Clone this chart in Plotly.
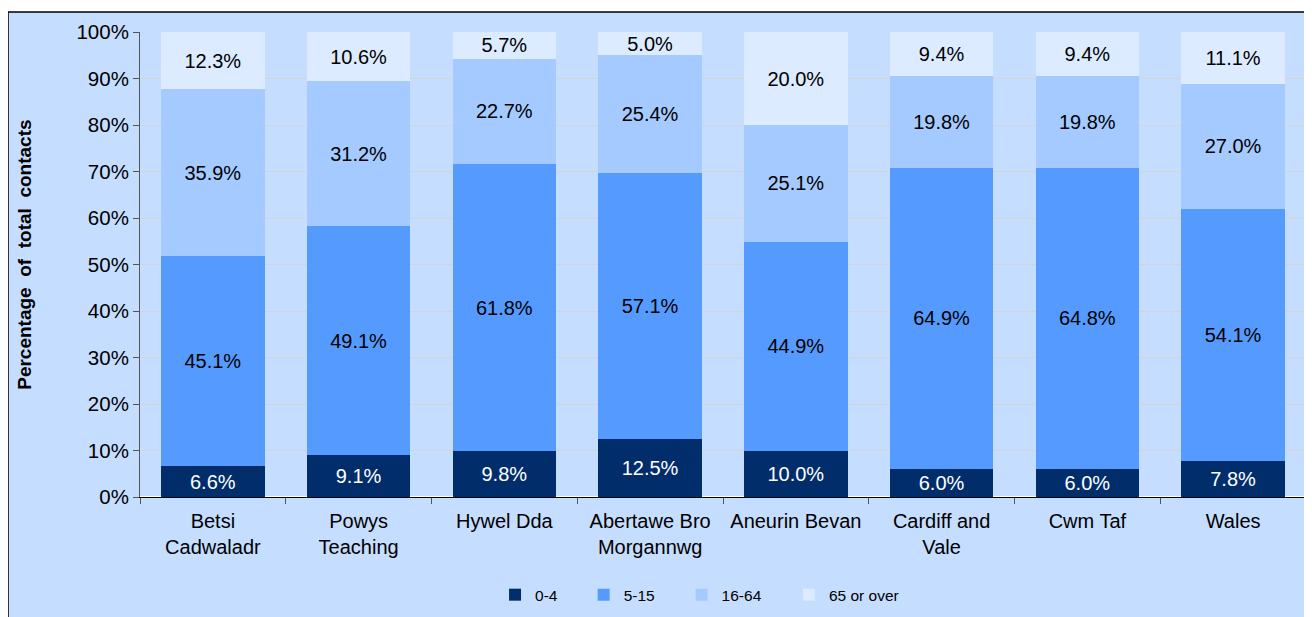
import plotly.graph_objects as go

boards = ['Betsi<br>Cadwaladr', 'Powys<br>Teaching', 'Hywel Dda', 'Abertawe Bro<br>Morgannwg',
          'Aneurin Bevan', 'Cardiff and<br>Vale', 'Cwm Taf', 'Wales']
age_0_4 = [6.6, 9.1, 9.8, 12.5, 10.0, 6.0, 6.0, 7.8]
age_5_15 = [45.1, 49.1, 61.8, 57.1, 44.9, 64.9, 64.8, 54.1]
age_16_64 = [35.9, 31.2, 22.7, 25.4, 25.1, 19.8, 19.8, 27.0]
age_65_plus = [12.3, 10.6, 5.7, 5.0, 20.0, 9.4, 9.4, 11.1]

series = [('0-4', age_0_4, '#012E6B', 'white'),
          ('5-15', age_5_15, '#559BFF', 'black'),
          ('16-64', age_16_64, '#A4CAFF', 'black'),
          ('65 or over', age_65_plus, '#DCEBFF', 'black')]
legend_x = [0.3045, 0.3805, 0.4645, 0.5565]   # one small legend per series

fig = go.Figure()
for i, (name, vals, col, tcol) in enumerate(series):
    lg = 'legend' if i == 0 else f'legend{i + 1}'
    fig.add_trace(go.Bar(
        x=boards, y=vals, name=name, legend=lg, marker=dict(color=col, line=dict(width=0)),
        text=[f'{v:.1f}%' for v in vals], textposition='inside', insidetextanchor='middle',
        textangle=0, textfont=dict(color=tcol, size=20, family='Liberation Sans, Arial'),
        hoverinfo='skip'))
    fig.update_layout({lg: dict(orientation='h', x=legend_x[i], xanchor='left', y=-0.211,
                                yanchor='middle', font=dict(size=15.5), bgcolor='rgba(0,0,0,0)',
                                itemwidth=30)})

# chart area frame (page body margin gives the white strip on top/left)
fig.add_shape(type='rect', xref='paper', yref='paper', x0=-0.1132, x1=1.2, y0=-0.4, y1=1.043,
              fillcolor='#C5DDFE', line=dict(color='black', width=1.5), layer='below')

fig.add_annotation(text='<b>Percentage\u00a0 of\u00a0 total\u00a0 contacts</b>', xref='paper', yref='paper',
                   x=-0.099, xanchor='center', y=0.52, textangle=-90, showarrow=False,
                   font=dict(size=19))

fig.update_layout(
    barmode='stack', barnorm='percent', bargap=0.29,
    width=1304, height=609,
    margin=dict(l=132, r=6, t=24, b=120, autoexpand=False),
    paper_bgcolor='white', plot_bgcolor='white',
    font=dict(family='Liberation Sans, Arial', size=19, color='black'),
    uniformtext=dict(minsize=20, mode='show'),
    showlegend=True,
)
fig.update_yaxes(range=[0, 100], dtick=10, ticksuffix='%', showgrid=True, gridcolor='#D4D4D4',
                 showline=True, linecolor='#555555', ticks='outside', ticklen=6, tickcolor='#555555',
                 tickfont=dict(size=20.5), automargin=False)
fig.update_xaxes(showline=True, linecolor='black', ticks='outside', tickson='boundaries', ticklen=6,
                 tickcolor='#555555', tickfont=dict(size=20), ticklabelstandoff=6, automargin=False)

fig.write_html('out.html')
